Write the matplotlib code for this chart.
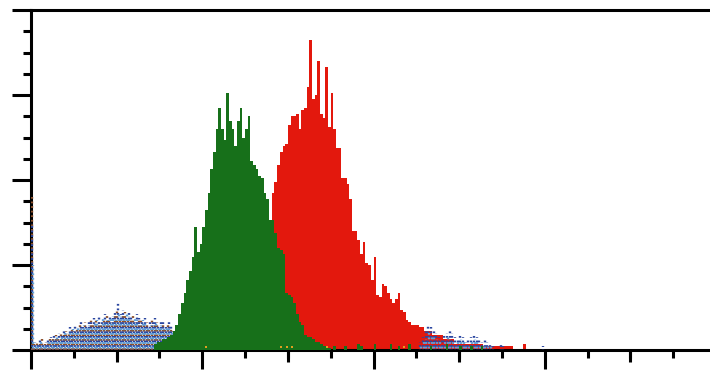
import numpy as np
import matplotlib
matplotlib.use("Agg")
import matplotlib.pyplot as plt
from matplotlib.ticker import MultipleLocator, FixedLocator

plt.rcParams["lines.scale_dashes"] = False

# ---- histogram data (1024 channels, 4 channels per bin) ----
N_CHANNELS = 1024
BIN_W = 4

# stained sample (green), counts per bin starting at bin 46
green_start = 46
green_counts = [3, 4, 4, 5, 5, 6, 7, 9, 12, 17, 22, 27, 33, 37, 44, 58, 46, 50, 58, 66,
                74, 85, 93, 104, 114, 104, 99, 121, 108, 104, 96, 108, 114, 100, 104, 110,
                89, 87, 85, 82, 81, 74, 71, 61, 61, 55, 48, 47, 45, 27, 26, 25, 22, 17, 13,
                12, 7, 6, 6, 5, 4, 4, 3, 2, 2, 1]
# isolated low counts of the green sample in the upper channels
green_sparse_bins = [113, 117, 122, 123, 128, 134, 137, 141, 149, 155, 160, 164, 168]
green_sparse_counts = [2, 2, 3, 2, 3, 3, 2, 3, 2, 3, 2, 2, 2]

# second sample (red), counts per bin starting at bin 89
red_start = 89
red_counts = [60, 74, 79, 87, 93, 96, 97, 106, 110, 110, 111, 104, 113, 114, 124, 146, 118,
              120, 136, 111, 109, 133, 105, 121, 104, 95, 95, 81, 81, 78, 71, 56, 56, 52, 45,
              51, 41, 40, 33, 44, 26, 25, 31, 30, 27, 24, 22, 24, 27, 19, 18, 14, 13, 12, 12,
              12, 11, 11, 9, 9, 9, 7, 7, 7, 7, 5, 5, 5, 5, 3, 3, 3, 3, 3, 3, 3, 3, 3, 3, 3,
              2, 2, 2, 2, 2, 2, 2, 2, 2, 2, 2, 0, 0, 0, 0, 3, 0]

# unstained / debris events, three overlaid traces starting at bin 0
blue_noise = [60, 4, 3, 5, 3, 4, 5, 6, 7, 5, 8, 7, 9, 8, 11, 9, 12, 10, 13, 11, 12, 14, 13,
              15, 12, 16, 14, 17, 13, 16, 15, 18, 22, 17, 19, 15, 18, 16, 14, 17, 15, 13, 15,
              12, 14, 13, 15, 12, 14, 13, 11, 14, 12, 10, 9, 8]
amber_noise = [72, 3, 4, 3, 5, 3, 4, 5, 6, 7, 6, 8, 7, 9, 8, 10, 9, 11, 12, 10, 13, 11, 14,
               12, 15, 13, 12, 15, 16, 14, 13, 16, 19, 15, 17, 18, 14, 15, 16, 13, 14, 15, 12,
               13, 11, 14, 12, 13, 11, 12, 10, 12, 11, 9, 8, 7]
sky_noise = [40, 2, 3, 4, 2, 3, 4, 4, 5, 6, 5, 7, 8, 7, 9, 10, 8, 11, 10, 12, 11, 12, 11, 13,
             14, 12, 15, 13, 14, 15, 16, 14, 17, 16, 15, 17, 16, 13, 15, 14, 12, 14, 13, 11,
             12, 12, 13, 11, 12, 10, 11, 10, 9, 8, 7, 6]
# debris events in the upper channels
tail_start = 145
blue_tail = [4, 6, 9, 12, 11, 10, 8, 6, 5, 7, 8, 9, 8, 6, 5, 7, 6, 4, 5, 6, 7, 6, 5, 4, 5,
             4, 3, 2, 0, 0, 3, 2, 0, 0, 0, 0, 0, 0, 0, 0, 0, 0, 0, 0, 0, 0, 2]
sky_tail = [3, 4, 5, 8, 7, 6, 5, 4, 3, 4, 6, 5, 4, 3, 4, 5, 4, 3, 3, 4, 5, 4, 3, 2, 3, 2, 2]
# single amber events sitting on the baseline
amber_marks = [65, 93, 95, 97, 110, 139]


def full(start, values):
    arr = np.zeros(N_CHANNELS // BIN_W)
    arr[start:start + len(values)] = values
    return arr


edges = np.arange(0, N_CHANNELS + BIN_W, BIN_W)
centers = edges[:-1] + BIN_W / 2

green = full(green_start, green_counts)
green[green_sparse_bins] = green_sparse_counts
red = full(red_start, red_counts)
blue = full(0, blue_noise) + full(tail_start, blue_tail)
amber = full(0, amber_noise)
sky = full(0, sky_noise) + full(tail_start, sky_tail)

# ---- figure ----
W, H = 710, 371
fig = plt.figure(figsize=(W / 100, H / 100), dpi=100)
ax = fig.add_axes([31 / W, 21 / H, 685 / W, 340 / H])

ax.stairs(red, edges, fill=True, color="#e3180d", zorder=2)

for vals, col, off in [(amber, "#8c4f2a", 0.0), (blue, "#2a46a0", 1.1), (sky, "#5e9ed8", 2.2)]:
    m = vals > 0
    ax.vlines(centers[m] + (off - 1.1) * 0.9, 0, vals[m], colors=col, linewidth=1.7,
              linestyles=[(off, (1.3, 2.0))], zorder=3)

ax.stairs(green, edges, fill=True, color="#17701a", zorder=4)

ax.scatter(centers[amber_marks], np.full(len(amber_marks), 1.5), s=4, marker="s",
           color="#e0a020", linewidths=0, zorder=5)

ax.set_xlim(0, N_CHANNELS)
ax.set_ylim(0, 160)

for s in ["left", "bottom", "top"]:
    ax.spines[s].set_linewidth(2.2)
    ax.spines[s].set_color("black")
ax.spines["right"].set_visible(False)

ax.xaxis.set_major_locator(MultipleLocator(256))
ax.xaxis.set_minor_locator(MultipleLocator(64))
ax.yaxis.set_major_locator(MultipleLocator(40))
ax.yaxis.set_minor_locator(MultipleLocator(10))
ax.tick_params(axis="x", which="major", direction="out", length=14, width=2.2, labelbottom=False)
ax.tick_params(axis="x", which="minor", direction="out", length=5.5, width=2.2)
ax.tick_params(axis="y", which="major", direction="out", length=14, width=2.2, labelleft=False)
ax.tick_params(axis="y", which="minor", direction="out", length=5.5, width=2.2)

# half-decade ticks on the channel axis
sec = ax.secondary_xaxis("bottom")
sec.xaxis.set_major_locator(FixedLocator(np.arange(128, N_CHANNELS, 256)))
sec.tick_params(axis="x", direction="out", length=8.5, width=2.2, labelbottom=False)
sec.spines["bottom"].set_visible(False)

fig.savefig("out.png", dpi=100)
